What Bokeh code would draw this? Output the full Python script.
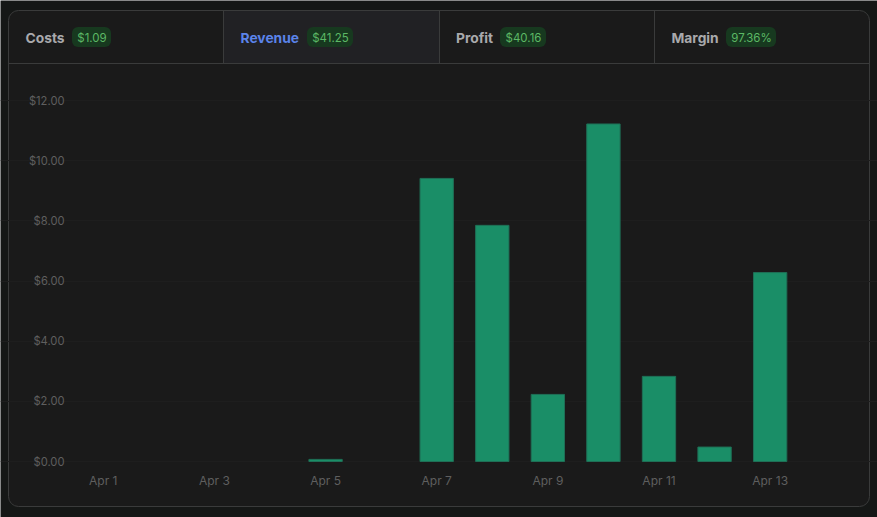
from bokeh.embed import file_html
from bokeh.models import BoxAnnotation, FixedTicker, Label, NumeralTickFormatter, Range1d
from bokeh.plotting import figure
from bokeh.resources import INLINE

# Data
days = [1, 2, 3, 4, 5, 6, 7, 8, 9, 10, 11, 12, 13, 14]
revenue = [0, 0, 0, 0, 0.07, 0, 9.41, 7.85, 2.23, 11.22, 2.83, 0.48, 6.28, 0]
tick_days = [1, 3, 5, 7, 9, 11, 13]
tick_labels = ["Apr 1", "Apr 3", "Apr 5", "Apr 7", "Apr 9", "Apr 11", "Apr 13"]
y_ticks = [0, 2, 4, 6, 8, 10, 12]
tab_names = ["Costs", "Revenue", "Profit", "Margin"]
tab_values = ["$1.09", "$41.25", "$40.16", "97.36%"]

tab_left = [25, 240, 455.5, 671]
badge_left = [72, 307, 500, 726]
badge_right = [111, 353, 546, 776]
dividers = [223, 439, 654]

PAGE_BG = "#151716"
CARD_BG = "#1a1a1a"
BORDER = "#3a3b3b"

W, H = 877, 517
# Plot area in canvas pixels. Annotations get clipped to the frame, so the frame
# fills the canvas and the ranges are stretched to put the data in this box
PX_LEFT, PX_RIGHT, PX_TOP, PX_BOTTOM = 75, 853, 100, 461
x_scale = (PX_RIGHT - PX_LEFT) / 14
y_scale = (PX_BOTTOM - PX_TOP) / 12
x_range = Range1d(0.5 - PX_LEFT / x_scale, 14.5 + (W - PX_RIGHT) / x_scale)
y_range = Range1d(-(H - PX_BOTTOM) / y_scale, 12 + PX_TOP / y_scale)


# Box in canvas pixels, used for the card chrome. Bokeh shifts drawing by half a
# pixel, so filled boxes take -0.5 to stay crisp
def box(left, right, top, bottom, **kw):
    return BoxAnnotation(left=left - 0.5, right=right - 0.5, top=top - 0.5, bottom=bottom - 0.5,
                         left_units="canvas", right_units="canvas", top_units="canvas", bottom_units="canvas",
                         fill_alpha=1, line_color=None, **kw)


p = figure(width=W, height=H, output_backend="svg", toolbar_location=None,
           x_range=x_range, y_range=y_range, min_border=0)

p.background_fill_color = PAGE_BG
p.border_fill_color = PAGE_BG
p.outline_line_color = None

# Card and tab strip
card = box(8.5, 869.5, 10.5, 506.5, fill_color=CARD_BG, border_radius=10, level="image")
card.line_color = BORDER
card.line_width = 1
card.line_alpha = 1
p.add_layout(card)
p.add_layout(box(dividers[0], dividers[1], 11, 63, fill_color="#212124", level="image"))
p.add_layout(box(9, 869, 63, 64, fill_color=BORDER, level="image"))
for d in dividers:
    p.add_layout(box(d, d + 1, 11, 63, fill_color=BORDER, level="image"))

for i, name in enumerate(tab_names):
    p.add_layout(Label(x=tab_left[i], y=37, x_units="canvas", y_units="canvas", text=name,
                       text_font="Inter", text_font_size="13.8px", text_font_style="bold",
                       text_color="#5b84ea" if name == "Revenue" else "#a9a9ac",
                       text_align="left", text_baseline="middle"))
    p.add_layout(box(badge_left[i], badge_right[i], 27, 47, fill_color="#17391f", border_radius=6))
    p.add_layout(Label(x=(badge_left[i] + badge_right[i]) / 2, y=37, x_units="canvas", y_units="canvas",
                       text=tab_values[i], text_font="Inter", text_font_size="11.5px", text_color="#5cb865",
                       text_align="center", text_baseline="middle"))

# Zero days have no visible bar
bar_days = [d for d, v in zip(days, revenue) if v > 0]
bar_tops = [v for v in revenue if v > 0]
p.vbar(x=bar_days, top=bar_tops, width=0.6, fill_color="#1a8e67", line_color="#1f6f56", line_width=1)

p.xaxis.fixed_location = 0
p.yaxis.fixed_location = 0.5
p.xaxis.ticker = FixedTicker(ticks=tick_days)
p.xaxis.major_label_overrides = dict(zip(tick_days, tick_labels))
p.yaxis.ticker = FixedTicker(ticks=y_ticks)
p.yaxis.formatter = NumeralTickFormatter(format="$0.00")
for ax in (p.xaxis[0], p.yaxis[0]):
    ax.axis_line_color = None
    ax.major_tick_line_color = None
    ax.minor_tick_line_color = None
    ax.major_tick_out = 0
    ax.major_tick_in = 0
    ax.minor_tick_out = 0
    ax.minor_tick_in = 0
    ax.major_label_text_font = "Inter"
    ax.major_label_text_color = "#5f5f5f"
p.xaxis.major_label_text_font_size = "12px"
p.yaxis.major_label_text_font_size = "11.2px"
p.xaxis.major_label_standoff = 11
p.yaxis.major_label_standoff = 11

p.xgrid.visible = False
p.ygrid.grid_line_color = "#1e1e1e"
p.ygrid.grid_line_width = 1
p.ygrid.bounds = (0.5, 14.5)

open("out.html", "w").write(file_html(p, INLINE))
